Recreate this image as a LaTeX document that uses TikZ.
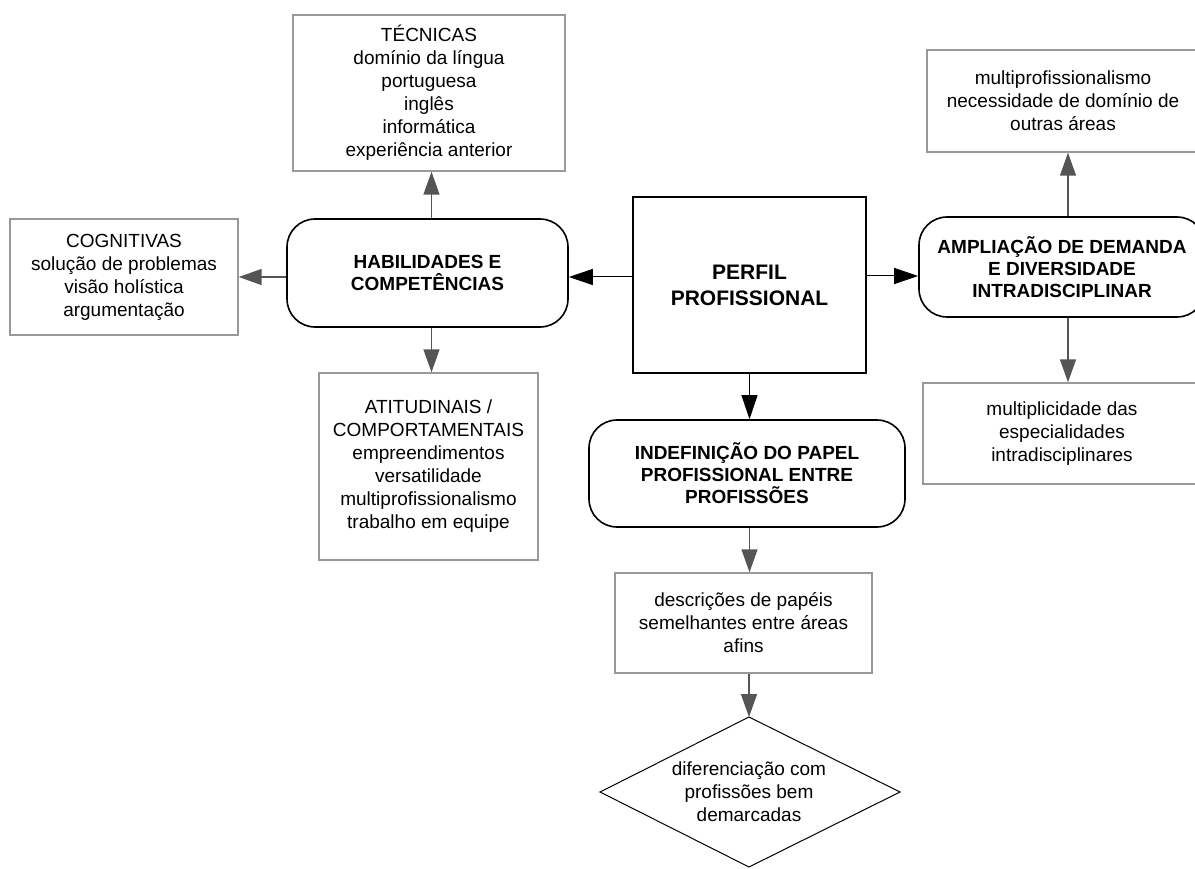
\documentclass[tikz,border=0pt]{standalone}
\usepackage{fontspec}
\setmainfont{Liberation Sans}
\usetikzlibrary{arrows.meta}
\definecolor{boxgray}{RGB}{153,153,153}
\definecolor{arrgray}{RGB}{85,85,85}
\newcommand\regf{\fontsize{19}{23}\selectfont}
\newcommand\bldf{\fontsize{19}{22}\selectfont\bfseries}
\newcommand\bigf{\fontsize{21}{26}\selectfont\bfseries}
\begin{document}
\begin{tikzpicture}[x=1pt,y=-1pt,
  gbox/.style={draw=boxgray, line width=1.4pt, align=center, inner sep=0pt, font=\regf, anchor=center},
  rbox/.style={draw=black, line width=1.6pt, rounded corners=28pt, align=center, inner sep=0pt, font=\bldf, anchor=center},
  pbox/.style={draw=black, line width=2pt, align=center, inner sep=0pt, font=\bigf, anchor=center},
  garr/.style={draw=arrgray, line width=1.5pt, -{Triangle[length=23pt,width=16pt]}},
  barr/.style={draw=black, line width=1pt, -{Triangle[length=24pt,width=16pt]}}]
\path[use as bounding box] (0,0) rectangle (1195,869);
\clip (0,0) rectangle (1195,869);

\node[gbox, minimum width=272pt, minimum height=156pt] (tec) at (429,93)
  {TÉCNICAS\\domínio da língua\\portuguesa\\inglês\\informática\\experiência anterior};
\node[gbox, minimum width=228pt, minimum height=116pt] (cog) at (124,277)
  {COGNITIVAS\\solução de problemas\\visão holística\\argumentação};
\node[rbox, minimum width=281pt, minimum height=108pt] (hab) at (427.5,273)
  {HABILIDADES E\\COMPETÊNCIAS};
\node[gbox, minimum width=219pt, minimum height=187pt] (ati) at (428.5,466.5)
  {ATITUDINAIS /\\COMPORTAMENTAIS\\empreendimentos\\versatilidade\\multiprofissionalismo\\trabalho em equipe};
\node[pbox, minimum width=233pt, minimum height=176pt] (perf) at (749.5,285)
  {PERFIL\\PROFISSIONAL};
\node[rbox, minimum width=286pt, minimum height=100pt] (amp) at (1062,267)
  {AMPLIAÇÃO DE DEMANDA\\E DIVERSIDADE\\INTRADISCIPLINAR};
\node[gbox, minimum width=272pt, minimum height=102pt] (mp) at (1063,101)
  {multiprofissionalismo\\necessidade de domínio de\\outras áreas};
\node[gbox, minimum width=278pt, minimum height=101pt] (mult) at (1062,433.5)
  {multiplicidade das\\especialidades\\intradisciplinares};
\node[rbox, minimum width=316pt, minimum height=107pt] (ind) at (747,473.5)
  {INDEFINIÇÃO DO PAPEL\\PROFISSIONAL ENTRE\\PROFISSÕES};
\node[gbox, minimum width=257pt, minimum height=100pt] (desc) at (743.5,623)
  {descrições de papéis\\semelhantes entre áreas\\afins};

\coordinate (diaT) at (749,717);
\coordinate (diaR) at (900,792);
\coordinate (diaB) at (749,867);
\coordinate (diaL) at (600,792);
\draw[black, line width=1pt] (diaT) -- (diaR) -- (diaB) -- (diaL) -- cycle;
\node[align=center, font=\regf, inner sep=0pt] (dia) at (749,792)
  {diferenciação com\\profissões bem\\demarcadas};

% connectors
\coordinate (habin) at ([yshift=-4pt]hab.east);
\coordinate (ampin) at ([yshift=-9pt]amp.west);
\coordinate (ampup) at ([xshift=6pt]amp.north);
\coordinate (ampdn) at ([xshift=6pt]amp.south);
\coordinate (habup) at ([xshift=4pt]hab.north);
\coordinate (habdn) at ([xshift=4pt]hab.south);
\coordinate (perfdn) at (perf.south);

\draw[barr] (perf.west |- habin) -- (habin);
\draw[barr] (perf.east |- ampin) -- (ampin);
\draw[barr] (perfdn) -- (perfdn |- ind.north);

\draw[garr] (habup) -- (habup |- tec.south);
\draw[garr] (hab.west |- cog.east) -- (cog.east);
\draw[garr] (habdn) -- (habdn |- ati.north);
\draw[garr] (ampup) -- (ampup |- mp.south);
\draw[garr] (ampdn) -- (ampdn |- mult.north);
\draw[garr] (ind.south -| perfdn) -- (perfdn |- desc.north);
\draw[garr] (desc.south -| diaT) -- (diaT);
\end{tikzpicture}
\end{document}
